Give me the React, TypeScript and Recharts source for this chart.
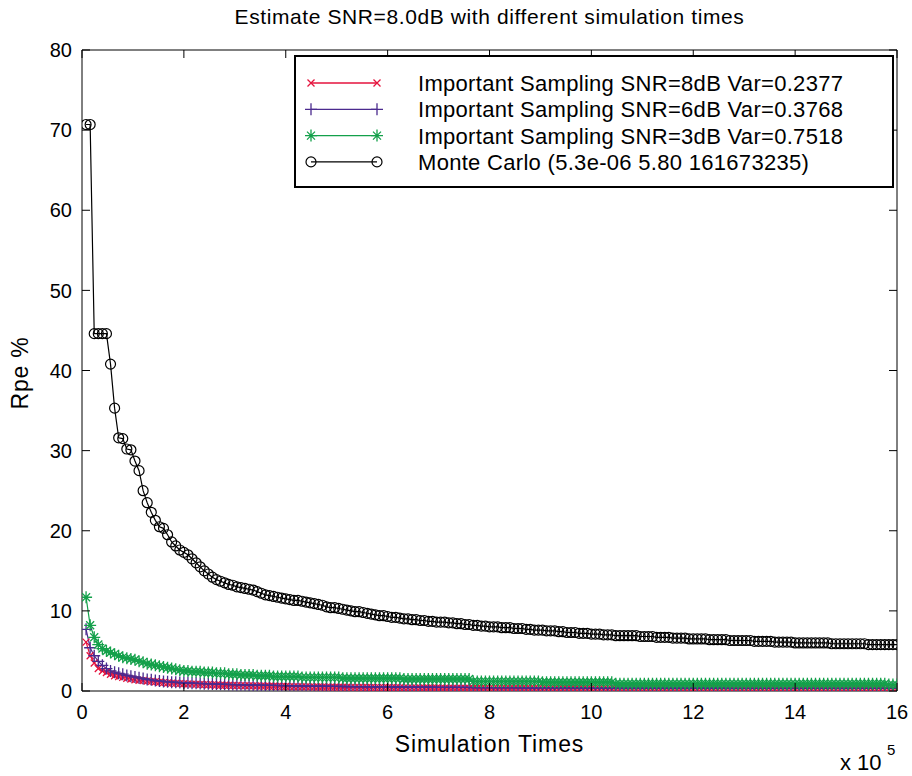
import React from "react";
import { LineChart, Line, XAxis, YAxis } from "recharts";

// simulation times, in units of 10^5
const simTimes = [
  0.08, 0.16, 0.24, 0.32, 0.4, 0.48, 0.56, 0.64, 0.72, 0.8, 0.88, 0.96, 1.04, 1.12, 1.2, 1.28, 1.36, 1.44, 1.52, 1.6, 1.68, 1.76, 1.84, 1.92, 2.0,
  2.08, 2.16, 2.24, 2.32, 2.4, 2.48, 2.56, 2.64, 2.72, 2.8, 2.88, 2.96, 3.04, 3.12, 3.2, 3.28, 3.36, 3.44, 3.52, 3.6, 3.68, 3.76, 3.84, 3.92, 4.0,
  4.08, 4.16, 4.24, 4.32, 4.4, 4.48, 4.56, 4.64, 4.72, 4.8, 4.88, 4.96, 5.04, 5.12, 5.2, 5.28, 5.36, 5.44, 5.52, 5.6, 5.68, 5.76, 5.84, 5.92, 6.0,
  6.08, 6.16, 6.24, 6.32, 6.4, 6.48, 6.56, 6.64, 6.72, 6.8, 6.88, 6.96, 7.04, 7.12, 7.2, 7.28, 7.36, 7.44, 7.52, 7.6, 7.68, 7.76, 7.84, 7.92, 8.0,
  8.08, 8.16, 8.24, 8.32, 8.4, 8.48, 8.56, 8.64, 8.72, 8.8, 8.88, 8.96, 9.04, 9.12, 9.2, 9.28, 9.36, 9.44, 9.52, 9.6, 9.68, 9.76, 9.84, 9.92, 10.0,
  10.08, 10.16, 10.24, 10.32, 10.4, 10.48, 10.56, 10.64, 10.72, 10.8, 10.88, 10.96, 11.04, 11.12, 11.2, 11.28, 11.36, 11.44, 11.52, 11.6, 11.68, 11.76, 11.84, 11.92, 12.0,
  12.08, 12.16, 12.24, 12.32, 12.4, 12.48, 12.56, 12.64, 12.72, 12.8, 12.88, 12.96, 13.04, 13.12, 13.2, 13.28, 13.36, 13.44, 13.52, 13.6, 13.68, 13.76, 13.84, 13.92, 14.0,
  14.08, 14.16, 14.24, 14.32, 14.4, 14.48, 14.56, 14.64, 14.72, 14.8, 14.88, 14.96, 15.04, 15.12, 15.2, 15.28, 15.36, 15.44, 15.52, 15.6, 15.68, 15.76, 15.84, 15.92, 16.0,
];

const mcRpe = [
  70.7, 70.7, 44.6, 44.6, 44.6, 44.6, 40.8, 35.3, 31.6, 31.5, 30.2, 30.1, 28.7, 27.5, 25.0, 23.5, 22.3, 21.3, 20.5, 20.3, 19.5, 18.6, 18.1, 17.6, 17.3,
  17.0, 16.5, 16.0, 15.5, 15.0, 14.6, 14.2, 13.9, 13.7, 13.5, 13.3, 13.2, 13.0, 12.9, 12.8, 12.7, 12.6, 12.4, 12.2, 12.0, 11.9, 11.8, 11.7, 11.6, 11.5,
  11.4, 11.3, 11.3, 11.2, 11.1, 11.0, 10.9, 10.8, 10.7, 10.5, 10.4, 10.4, 10.3, 10.2, 10.1, 10.0, 9.9, 9.9, 9.8, 9.7, 9.6, 9.5, 9.4, 9.4, 9.3,
  9.2, 9.2, 9.1, 9.0, 9.0, 8.9, 8.9, 8.8, 8.8, 8.7, 8.7, 8.6, 8.6, 8.6, 8.5, 8.5, 8.4, 8.4, 8.3, 8.3, 8.2, 8.2, 8.1, 8.1, 8.0,
  8.0, 8.0, 7.9, 7.9, 7.9, 7.8, 7.8, 7.8, 7.7, 7.7, 7.6, 7.6, 7.6, 7.5, 7.5, 7.5, 7.4, 7.4, 7.3, 7.3, 7.3, 7.2, 7.2, 7.2, 7.1,
  7.1, 7.1, 7.0, 7.0, 7.0, 6.9, 6.9, 6.9, 6.9, 6.9, 6.9, 6.8, 6.8, 6.8, 6.8, 6.7, 6.7, 6.7, 6.7, 6.6, 6.6, 6.6, 6.6, 6.5, 6.5,
  6.5, 6.5, 6.5, 6.4, 6.4, 6.4, 6.4, 6.4, 6.3, 6.3, 6.3, 6.3, 6.3, 6.3, 6.2, 6.2, 6.2, 6.2, 6.2, 6.1, 6.1, 6.1, 6.1, 6.1, 6.0,
  6.0, 6.0, 6.0, 6.0, 6.0, 6.0, 6.0, 6.0, 5.9, 5.9, 5.9, 5.9, 5.9, 5.9, 5.9, 5.9, 5.9, 5.8, 5.8, 5.8, 5.8, 5.8, 5.8, 5.8, 5.8,
];

const is8Rpe = [
  6.1, 4.4, 3.5, 2.8, 2.5, 2.3, 2.1, 1.9, 1.8, 1.7, 1.6, 1.5, 1.4, 1.35, 1.3, 1.25, 1.2, 1.15, 1.1, 1.05, 1.0, 0.98, 0.95, 0.92, 0.9,
  0.88, 0.86, 0.84, 0.82, 0.8, 0.78, 0.76, 0.74, 0.72, 0.71, 0.7, 0.69, 0.68, 0.67, 0.66, 0.65, 0.64, 0.63, 0.62, 0.61, 0.6, 0.59, 0.58, 0.57, 0.56,
  0.55, 0.54, 0.53, 0.52, 0.52, 0.51, 0.5, 0.5, 0.49, 0.48, 0.48, 0.47, 0.47, 0.46, 0.46, 0.45, 0.45, 0.44, 0.44, 0.43, 0.43, 0.42, 0.42, 0.41, 0.41,
  0.4, 0.4, 0.4, 0.39, 0.39, 0.39, 0.38, 0.38, 0.38, 0.37, 0.37, 0.37, 0.36, 0.36, 0.36, 0.36, 0.35, 0.35, 0.35, 0.35, 0.34, 0.34, 0.34, 0.34, 0.33,
  0.33, 0.33, 0.33, 0.33, 0.33, 0.33, 0.32, 0.32, 0.32, 0.32, 0.32, 0.32, 0.32, 0.32, 0.31, 0.31, 0.31, 0.31, 0.31, 0.31, 0.31, 0.31, 0.31, 0.31, 0.31,
  0.31, 0.31, 0.31, 0.3, 0.3, 0.3, 0.3, 0.3, 0.3, 0.3, 0.3, 0.3, 0.3, 0.3, 0.3, 0.3, 0.3, 0.3, 0.3, 0.3, 0.3, 0.3, 0.3, 0.3, 0.3,
  0.3, 0.3, 0.3, 0.3, 0.3, 0.29, 0.29, 0.29, 0.29, 0.29, 0.29, 0.29, 0.29, 0.29, 0.29, 0.29, 0.29, 0.29, 0.29, 0.29, 0.29, 0.29, 0.29, 0.29, 0.29,
  0.29, 0.29, 0.29, 0.29, 0.29, 0.29, 0.28, 0.28, 0.28, 0.28, 0.28, 0.28, 0.28, 0.28, 0.28, 0.28, 0.28, 0.28, 0.28, 0.28, 0.28, 0.28, 0.28, 0.28, 0.28,
];

const is6Rpe = [
  7.7, 5.4, 4.4, 3.7, 3.2, 2.8, 2.5, 2.35, 2.2, 2.1, 1.95, 1.85, 1.75, 1.65, 1.55, 1.45, 1.4, 1.3, 1.25, 1.2, 1.15, 1.1, 1.1, 1.05, 1.0,
  1.0, 0.98, 0.96, 0.94, 0.92, 0.9, 0.88, 0.86, 0.85, 0.84, 0.82, 0.8, 0.79, 0.78, 0.77, 0.76, 0.75, 0.74, 0.73, 0.72, 0.71, 0.7, 0.69, 0.68, 0.67,
  0.66, 0.65, 0.64, 0.63, 0.62, 0.62, 0.61, 0.6, 0.6, 0.59, 0.58, 0.58, 0.57, 0.56, 0.56, 0.55, 0.55, 0.54, 0.54, 0.53, 0.53, 0.52, 0.52, 0.51, 0.51,
  0.5, 0.5, 0.5, 0.49, 0.49, 0.48, 0.48, 0.48, 0.47, 0.47, 0.47, 0.46, 0.46, 0.46, 0.45, 0.45, 0.45, 0.44, 0.44, 0.44, 0.43, 0.43, 0.43, 0.43, 0.42,
  0.42, 0.42, 0.42, 0.41, 0.41, 0.41, 0.41, 0.4, 0.4, 0.4, 0.4, 0.4, 0.39, 0.39, 0.39, 0.39, 0.39, 0.38, 0.38, 0.38, 0.38, 0.38, 0.37, 0.37, 0.37,
  0.37, 0.37, 0.37, 0.36, 0.36, 0.36, 0.36, 0.36, 0.36, 0.36, 0.36, 0.36, 0.36, 0.36, 0.36, 0.35, 0.35, 0.35, 0.35, 0.35, 0.35, 0.35, 0.35, 0.35, 0.35,
  0.35, 0.35, 0.35, 0.35, 0.35, 0.35, 0.35, 0.35, 0.34, 0.34, 0.34, 0.34, 0.34, 0.34, 0.34, 0.34, 0.34, 0.34, 0.34, 0.34, 0.34, 0.34, 0.34, 0.34, 0.34,
  0.34, 0.34, 0.34, 0.34, 0.34, 0.34, 0.33, 0.33, 0.33, 0.33, 0.33, 0.33, 0.33, 0.33, 0.33, 0.33, 0.33, 0.33, 0.33, 0.33, 0.33, 0.33, 0.33, 0.33, 0.33,
];

const is3Rpe = [
  11.7, 8.2, 6.7, 5.8, 5.3, 5.0, 4.8, 4.6, 4.4, 4.2, 4.1, 4.0, 3.9, 3.7, 3.6, 3.4, 3.3, 3.2, 3.1, 3.0, 2.9, 2.8, 2.7, 2.6, 2.5,
  2.5, 2.4, 2.4, 2.4, 2.3, 2.3, 2.3, 2.2, 2.2, 2.2, 2.1, 2.1, 2.1, 2.0, 2.0, 2.0, 2.0, 1.9, 1.9, 1.9, 1.9, 1.8, 1.8, 1.8, 1.8,
  1.8, 1.8, 1.8, 1.7, 1.7, 1.7, 1.7, 1.7, 1.7, 1.7, 1.7, 1.7, 1.7, 1.6, 1.6, 1.6, 1.6, 1.6, 1.6, 1.6, 1.6, 1.6, 1.6, 1.6, 1.6,
  1.6, 1.6, 1.6, 1.5, 1.5, 1.5, 1.5, 1.5, 1.5, 1.5, 1.5, 1.5, 1.5, 1.5, 1.5, 1.5, 1.5, 1.5, 1.5, 1.5, 1.2, 1.2, 1.2, 1.2, 1.2,
  1.2, 1.2, 1.2, 1.2, 1.2, 1.2, 1.2, 1.2, 1.2, 1.2, 1.2, 1.2, 1.1, 1.1, 1.1, 1.1, 1.1, 1.1, 1.1, 1.1, 1.1, 1.1, 1.1, 1.1, 1.1,
  1.1, 1.1, 1.1, 1.1, 1.1, 0.9, 0.9, 0.9, 0.9, 0.9, 0.9, 0.9, 0.9, 0.9, 0.9, 0.9, 0.9, 0.9, 0.9, 0.9, 0.9, 0.9, 0.9, 0.9, 0.9,
  0.9, 0.9, 0.9, 0.9, 0.9, 0.9, 0.9, 0.9, 0.9, 0.9, 0.9, 0.9, 0.9, 0.9, 0.9, 0.9, 0.9, 0.9, 0.9, 0.9, 0.9, 0.9, 0.9, 0.9, 0.9,
  0.9, 0.9, 0.9, 0.9, 0.9, 0.9, 0.9, 0.9, 0.9, 0.9, 0.9, 0.9, 0.9, 0.9, 0.9, 0.9, 0.9, 0.9, 0.9, 0.9, 0.9, 0.9, 0.8, 0.8, 0.8,
];

const xTicks = [0, 2, 4, 6, 8, 10, 12, 14, 16];
const yTicks = [0, 10, 20, 30, 40, 50, 60, 70, 80];

const seriesNames = [
  "Important Sampling SNR=8dB Var=0.2377",
  "Important Sampling SNR=6dB Var=0.3768",
  "Important Sampling SNR=3dB Var=0.7518",
  "Monte Carlo (5.3e-06 5.80 161673235)",
];
const seriesKeys = ["is8", "is6", "is3", "mc"];
const seriesColors = ["#e5133d", "#4b2a8e", "#13a04a", "#000000"];
const seriesMarks = ["x", "plus", "star", "circle"];

const data = simTimes.map((x, i) => ({
  x,
  is8: is8Rpe[i],
  is6: is6Rpe[i],
  is3: is3Rpe[i],
  mc: mcRpe[i],
}));

const FONT = '"Liberation Sans", Arial, Helvetica, sans-serif';

function Marker({ cx, cy, kind, color }: { cx: number; cy: number; kind: string; color: string }) {
  if (kind === "circle") {
    return <circle cx={cx} cy={cy} r={5} fill="none" stroke={color} strokeWidth={1.2} />;
  }
  if (kind === "x") {
    const s = 3.5;
    return (
      <path
        d={`M${cx - s},${cy - s}L${cx + s},${cy + s}M${cx - s},${cy + s}L${cx + s},${cy - s}`}
        stroke={color}
        strokeWidth={1.3}
        fill="none"
      />
    );
  }
  if (kind === "plus") {
    const s = 6;
    return (
      <path d={`M${cx - s},${cy}L${cx + s},${cy}M${cx},${cy - s}L${cx},${cy + s}`} stroke={color} strokeWidth={1.3} fill="none" />
    );
  }
  const s = 6;
  const d = 4;
  return (
    <path
      d={`M${cx - s},${cy}L${cx + s},${cy}M${cx},${cy - s}L${cx},${cy + s}M${cx - d},${cy - d}L${cx + d},${cy + d}M${cx - d},${cy + d}L${cx + d},${cy - d}`}
      stroke={color}
      strokeWidth={1.3}
      fill="none"
    />
  );
}

const BottomTick = (props: any) => {
  const { x, y, payload } = props;
  return (
    <g>
      <line x1={x} x2={x} y1={y} y2={y - 8} stroke="#000" />
      <text x={x} y={y + 28} textAnchor="middle" fontFamily={FONT} fontSize={20} fill="#000">
        {payload.value}
      </text>
    </g>
  );
};

const TopTick = (props: any) => {
  const { x, y } = props;
  return <line x1={x} x2={x} y1={y} y2={y + 8} stroke="#000" />;
};

const LeftTick = (props: any) => {
  const { x, y, payload } = props;
  return (
    <g>
      <line x1={x} x2={x + 8} y1={y} y2={y} stroke="#000" />
      <text x={x - 10} y={y} dy="0.36em" textAnchor="end" fontFamily={FONT} fontSize={20} fill="#000">
        {payload.value}
      </text>
    </g>
  );
};

const RightTick = (props: any) => {
  const { x, y } = props;
  return <line x1={x} x2={x - 8} y1={y} y2={y} stroke="#000" />;
};

const LegendBox = () => (
  <svg width={912} height={776} style={{ position: "absolute", left: 0, top: 0, pointerEvents: "none" }}>
    <rect x={295} y={56} width={598} height={131} fill="#fff" stroke="#000" strokeWidth={2} />
    {seriesNames.map((name, i) => {
      const cy = 83 + i * 26.3;
      return (
        <g key={name}>
          <line x1={311} x2={377} y1={cy} y2={cy} stroke={seriesColors[i]} strokeWidth={1.3} />
          <Marker cx={311} cy={cy} kind={seriesMarks[i]} color={seriesColors[i]} />
          <Marker cx={377} cy={cy} kind={seriesMarks[i]} color={seriesColors[i]} />
          <text x={418} y={cy} dy="0.36em" fontFamily={FONT} fontSize={22} letterSpacing={0.3} fill="#000">
            {name}
          </text>
        </g>
      );
    })}
  </svg>
);

export default function App() {
  return (
    <div style={{ position: "absolute", left: 0, top: 0, width: 912, height: 776, background: "#fff", fontFamily: FONT }}>
      <LineChart width={912} height={776} data={data} margin={{ top: 40, right: 5, bottom: 55, left: 42 }}>
        <XAxis
          xAxisId="b"
          dataKey="x"
          type="number"
          domain={[0, 16]}
          ticks={xTicks}
          allowDataOverflow
          height={30}
          tickSize={0}
          tickMargin={0}
          tickLine={false}
          axisLine={{ stroke: "#000" }}
          tick={<BottomTick />}
          interval={0}
        />
        <XAxis
          xAxisId="t"
          orientation="top"
          dataKey="x"
          type="number"
          domain={[0, 16]}
          ticks={xTicks}
          allowDataOverflow
          height={10}
          tickSize={0}
          tickMargin={0}
          tickLine={false}
          axisLine={{ stroke: "#000" }}
          tick={<TopTick />}
          interval={0}
        />
        <YAxis
          yAxisId="l"
          type="number"
          domain={[0, 80]}
          ticks={yTicks}
          allowDataOverflow
          width={40}
          tickSize={0}
          tickMargin={0}
          tickLine={false}
          axisLine={{ stroke: "#000" }}
          tick={<LeftTick />}
          interval={0}
        />
        <YAxis
          yAxisId="r"
          orientation="right"
          type="number"
          domain={[0, 80]}
          ticks={yTicks}
          allowDataOverflow
          width={10}
          tickSize={0}
          tickMargin={0}
          tickLine={false}
          axisLine={{ stroke: "#000" }}
          tick={<RightTick />}
          interval={0}
        />
        {seriesKeys.map((key, i) => (
          <Line
            key={key}
            xAxisId="b"
            yAxisId="l"
            dataKey={key}
            type="linear"
            stroke={seriesColors[i]}
            strokeWidth={1.2}
            isAnimationActive={false}
            activeDot={false}
            dot={(p: any) => (
              <Marker key={`${key}-${p.index}`} cx={p.cx} cy={p.cy} kind={seriesMarks[i]} color={seriesColors[i]} />
            )}
          />
        ))}
      </LineChart>
      <LegendBox />
      <div
        style={{ position: "absolute", left: 0, width: 979, top: 5, textAlign: "center", fontSize: 21, letterSpacing: 0.6, lineHeight: "24px" }}
      >
        Estimate SNR=8.0dB with different simulation times
      </div>
      <div
        style={{ position: "absolute", left: 0, width: 979, top: 731, textAlign: "center", fontSize: 23, letterSpacing: 0.9, lineHeight: "26px" }}
      >
        Simulation Times
      </div>
      <div
        style={{
          position: "absolute",
          left: 20,
          top: 373,
          fontSize: 23,
          letterSpacing: 0.8,
          lineHeight: "26px",
          whiteSpace: "nowrap",
          transform: "translate(-50%, -50%) rotate(-90deg)",
        }}
      >
        Rpe %
      </div>
      <div style={{ position: "absolute", left: 840, top: 751, fontSize: 22, lineHeight: "24px", whiteSpace: "nowrap" }}>
        x 10
        <span style={{ position: "absolute", left: 47, top: -13, fontSize: 15 }}>5</span>
      </div>
    </div>
  );
}
